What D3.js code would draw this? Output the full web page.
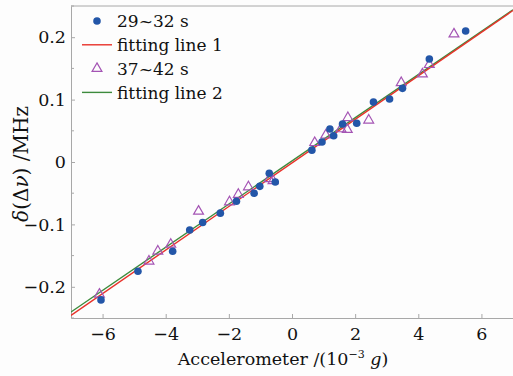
<!DOCTYPE html>
<html>
<head>
<meta charset="utf-8">
<script src="https://cdn.jsdelivr.net/npm/d3@7"></script>
<style>
  body { margin: 0; background: #fdfdfd; }
  svg { display: block; font-family: "DejaVu Serif", serif; }
</style>
</head>
<body>
<svg id="chart" width="513" height="376"></svg>
<script>
// 29~32 s run (filled circles)
const run1 = [
  [-6.05, -0.221], [-4.88, -0.175], [-3.78, -0.143], [-3.24, -0.109], [-2.83, -0.097],
  [-2.27, -0.082], [-1.76, -0.063], [-1.2, -0.050], [-1.02, -0.039], [-0.72, -0.018],
  [-0.53, -0.032], [0.63, 0.019], [0.95, 0.032], [1.2, 0.053], [1.32, 0.042],
  [1.6, 0.061], [2.05, 0.062], [2.58, 0.096], [3.09, 0.101], [3.5, 0.118],
  [4.35, 0.165], [5.5, 0.21]
];
// 37~42 s run (open triangles)
const run2 = [
  [-6.1, -0.212], [-4.53, -0.159], [-4.25, -0.143], [-3.84, -0.132], [-2.96, -0.079],
  [-1.98, -0.064], [-1.7, -0.052], [-1.38, -0.040], [-0.72, -0.027], [-0.6, -0.030],
  [0.72, 0.031], [1.07, 0.043], [1.55, 0.053], [1.77, 0.071], [1.75, 0.052],
  [2.43, 0.067], [3.46, 0.127], [4.13, 0.141], [4.35, 0.156], [5.13, 0.205]
];
// fitted lines: [slope, intercept]
const fit1 = [0.0349, -0.0015];
const fit2 = [0.0346, 0.0018];

const xTicks = [-6, -4, -2, 0, 2, 4, 6];
const yTicks = [-0.2, -0.1, 0, 0.1, 0.2];
const yMinor = [-0.25, -0.15, -0.05, 0.05, 0.15, 0.25];

const legendItems = [
  {label: "29~32 s", type: "circle"},
  {label: "fitting line 1", type: "line", color: "#e8322a"},
  {label: "37~42 s", type: "triangle"},
  {label: "fitting line 2", type: "line", color: "#3d8b3d"}
];

const svg = d3.select("#chart");
const plotL = 71, plotR = 513, plotT = 6, plotB = 318;

const x = d3.scaleLinear().domain([-7, 7]).range([plotL, plotR]);
const y = d3.scaleLinear().domain([-0.25, 0.25]).range([plotB, plotT]);

const axisColor = "#a8a8a8";
const fmt = v => (v < 0 ? "\u2212" : "") + Math.abs(v).toString();

// x axis with inward ticks
const gx = svg.append("g").attr("transform", `translate(0,${plotB})`)
  .call(d3.axisBottom(x).tickValues(xTicks).tickSizeInner(-4).tickSizeOuter(0).tickFormat(fmt));
gx.select(".domain").attr("stroke", axisColor);
gx.selectAll(".tick line").attr("stroke", axisColor);
gx.selectAll(".tick text").attr("font-size", 17.5).attr("fill", "#111").attr("y", 10).attr("dy", "0.71em")
  .attr("font-family", "DejaVu Serif");

// y axis
const gy = svg.append("g").attr("transform", `translate(${plotL},0)`)
  .call(d3.axisLeft(y).tickValues(yTicks).tickSizeInner(-4).tickSizeOuter(0).tickFormat(fmt));
gy.select(".domain").attr("stroke", axisColor);
gy.selectAll(".tick line").attr("stroke", axisColor);
gy.selectAll(".tick text").attr("font-size", 17.5).attr("fill", "#111").attr("x", -5)
  .attr("font-family", "DejaVu Serif");

svg.append("g").selectAll("line").data(yMinor).join("line")
  .attr("x1", plotL).attr("x2", plotL + 3)
  .attr("y1", d => y(d)).attr("y2", d => y(d))
  .attr("stroke", axisColor);

// top frame
svg.append("line").attr("x1", plotL).attr("x2", plotR).attr("y1", plotT).attr("y2", plotT)
  .attr("stroke", axisColor);

// fitted lines
const clipId = "plotclip";
svg.append("clipPath").attr("id", clipId).append("rect")
  .attr("x", plotL).attr("y", plotT).attr("width", plotR - plotL).attr("height", plotB - plotT);
const lineGen = d3.line().x(d => x(d[0])).y(d => y(d[1]));
[[fit2, "#3d8b3d"], [fit1, "#e8322a"]].forEach(([f, c]) => {
  const pts = x.domain().map(v => [v, f[0] * v + f[1]]);
  svg.append("path").attr("d", lineGen(pts)).attr("fill", "none")
    .attr("stroke", c).attr("stroke-width", 1.4).attr("clip-path", `url(#${clipId})`);
});

// markers
const triColor = "#a454b4", dotColor = "#2356a8";
const tri = d3.symbol().type(d3.symbolTriangle).size(42);
svg.append("g").selectAll("path").data(run2).join("path")
  .attr("d", tri)
  .attr("transform", d => `translate(${x(d[0])},${y(d[1])})`)
  .attr("fill", "none").attr("stroke", triColor).attr("stroke-width", 1.2);
svg.append("g").selectAll("circle").data(run1).join("circle")
  .attr("cx", d => x(d[0])).attr("cy", d => y(d[1])).attr("r", 3.8)
  .attr("fill", dotColor);

// legend
const lg = svg.append("g").attr("transform", "translate(82,21)");
const rows = lg.selectAll("g").data(legendItems).join("g")
  .attr("transform", (d, i) => `translate(0,${i * 23.8})`);
rows.each(function(d) {
  const g = d3.select(this);
  if (d.type === "circle") g.append("circle").attr("cx", 15).attr("cy", 0).attr("r", 3.8).attr("fill", dotColor);
  else if (d.type === "triangle") g.append("path").attr("d", tri).attr("transform", "translate(15,0)")
    .attr("fill", "none").attr("stroke", triColor).attr("stroke-width", 1.2);
  else g.append("line").attr("x1", 0).attr("x2", 30).attr("stroke", d.color).attr("stroke-width", 1.4);
});
rows.append("text").attr("x", 35).attr("dy", "0.36em").attr("font-size", 17).attr("fill", "#111")
  .text(d => d.label);

// axis titles
const xt = svg.append("text").attr("x", 283).attr("y", 365).attr("text-anchor", "middle")
  .attr("font-size", 17.5).attr("fill", "#111");
xt.append("tspan").text("Accelerometer /(10");
xt.append("tspan").attr("font-size", 11).attr("dy", -7).text("\u22123");
xt.append("tspan").attr("dy", 7).text(" ");
xt.append("tspan").attr("font-style", "italic").text("g");
xt.append("tspan").text(")");

const yt = svg.append("text").attr("transform", "translate(28,164) rotate(-90)")
  .attr("text-anchor", "middle").attr("font-size", 20).attr("fill", "#111");
yt.append("tspan").attr("font-style", "italic").text("\u03b4");
yt.append("tspan").text("(\u0394");
yt.append("tspan").attr("font-style", "italic").text("\u03bd");
yt.append("tspan").text(") /MHz");
</script>
</body>
</html>
